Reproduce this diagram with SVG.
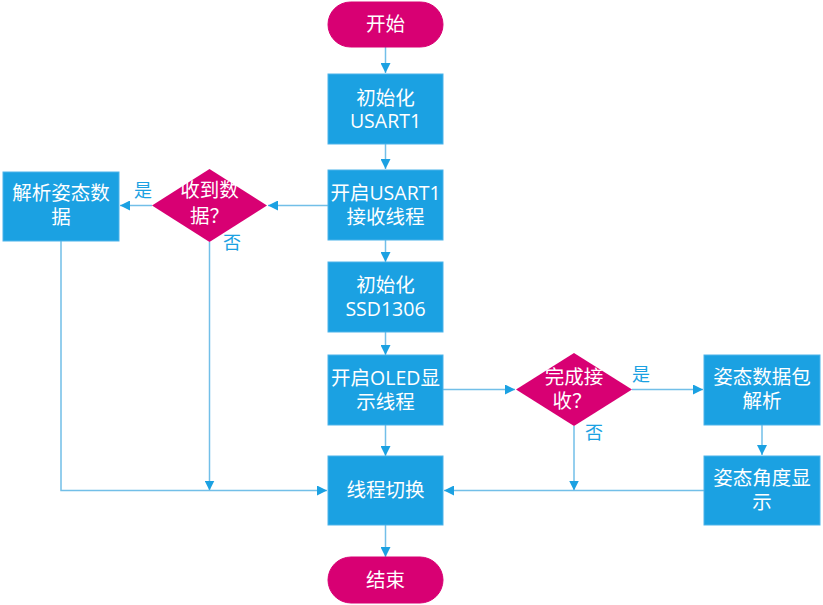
<svg xmlns="http://www.w3.org/2000/svg" width="823" height="605" viewBox="0 0 823 605">
<defs>
<marker id="ah" viewBox="0 0 10 10" refX="10" refY="5" markerWidth="10" markerHeight="10" markerUnits="userSpaceOnUse" orient="auto">
<path d="M0,0 L10,5 L0,10 Z" fill="#1ba1e2"/>
</marker>
<style>
.box{fill:#1ba1e2;stroke:#4cb3ea;stroke-width:1}
.term{fill:#d80073;stroke:#d80073}
.dia{fill:#d80073}
.t{fill:#ffffff;font-family:"Open Sans","Noto Sans CJK SC",sans-serif;font-size:19.5px;text-anchor:middle}
.lb{fill:#1ba1e2;font-family:"Open Sans","Noto Sans CJK SC",sans-serif;font-size:18px;text-anchor:middle}
.c{fill:none;stroke:#72bfe8;stroke-width:1.5}
</style>
</defs>
<rect width="823" height="605" fill="#ffffff"/>
<g id="connectors">
<path class="c" d="M385.5,47 V73" marker-end="url(#ah)"/>
<path class="c" d="M385.5,144 V169" marker-end="url(#ah)"/>
<path class="c" d="M385.5,240 V262" marker-end="url(#ah)"/>
<path class="c" d="M385.5,332 V355" marker-end="url(#ah)"/>
<path class="c" d="M385.5,425 V456" marker-end="url(#ah)"/>
<path class="c" d="M385.5,525 V557" marker-end="url(#ah)"/>
<path class="c" d="M328,205.5 H268" marker-end="url(#ah)"/>
<path class="c" d="M152,205.5 H120" marker-end="url(#ah)"/>
<path class="c" d="M209.5,242 V490.5" marker-end="url(#ah)"/>
<path class="c" d="M61,241 V490.5 H327" marker-end="url(#ah)"/>
<path class="c" d="M443,389.5 H515" marker-end="url(#ah)"/>
<path class="c" d="M632,389.5 H703" marker-end="url(#ah)"/>
<path class="c" d="M574,426 V490.5" marker-end="url(#ah)"/>
<path class="c" d="M762,425 V455" marker-end="url(#ah)"/>
<path class="c" d="M704,490.5 H444" marker-end="url(#ah)"/>
<text class="lb" x="143" y="197">是</text>
<text class="lb" x="232" y="249">否</text>
<text class="lb" x="641" y="381">是</text>
<text class="lb" x="594" y="439">否</text>
</g>
<g id="start">
<rect class="term" x="328" y="2" width="115" height="45" rx="22.5"/>
<text class="t" x="385.5" y="31">开始</text>
</g>
<g id="init_usart">
<rect class="box" x="328" y="74" width="115" height="70"/>
<text class="t" x="385.5" y="105">初始化</text>
<text class="t" x="385.5" y="128">USART1</text>
</g>
<g id="start_usart">
<rect class="box" x="328" y="170" width="115" height="70"/>
<text class="t" x="385.5" y="200">开启USART1</text>
<text class="t" x="385.5" y="224">接收线程</text>
</g>
<g id="recv_dec">
<polygon class="dia" points="209.5,169 267,205.5 209.5,242 152,205.5"/>
<text class="t" x="209.5" y="197">收到数</text>
<text class="t" x="209.5" y="223">据？</text>
</g>
<g id="parse_left">
<rect class="box" x="3" y="172" width="116" height="69"/>
<text class="t" x="61" y="200">解析姿态数</text>
<text class="t" x="61" y="224">据</text>
</g>
<g id="init_ssd">
<rect class="box" x="328" y="262" width="115" height="70"/>
<text class="t" x="385.5" y="292">初始化</text>
<text class="t" x="385.5" y="316">SSD1306</text>
</g>
<g id="start_oled">
<rect class="box" x="328" y="355" width="115" height="70"/>
<text class="t" x="385.5" y="385">开启OLED显</text>
<text class="t" x="385.5" y="409">示线程</text>
</g>
<g id="done_dec">
<polygon class="dia" points="574,353 632,389.5 574,426 516,389.5"/>
<text class="t" x="574" y="384">完成接</text>
<text class="t" x="572" y="408">收？</text>
</g>
<g id="parse_right">
<rect class="box" x="704" y="355" width="116" height="70"/>
<text class="t" x="762" y="384">姿态数据包</text>
<text class="t" x="762" y="408">解析</text>
</g>
<g id="angle_show">
<rect class="box" x="704" y="456" width="116" height="69"/>
<text class="t" x="762" y="485">姿态角度显</text>
<text class="t" x="762" y="509">示</text>
</g>
<g id="switch">
<rect class="box" x="328" y="456" width="115" height="69"/>
<text class="t" x="385.5" y="497">线程切换</text>
</g>
<g id="end">
<rect class="term" x="328" y="557" width="115" height="46" rx="23"/>
<text class="t" x="385.5" y="587">结束</text>
</g>
</svg>
